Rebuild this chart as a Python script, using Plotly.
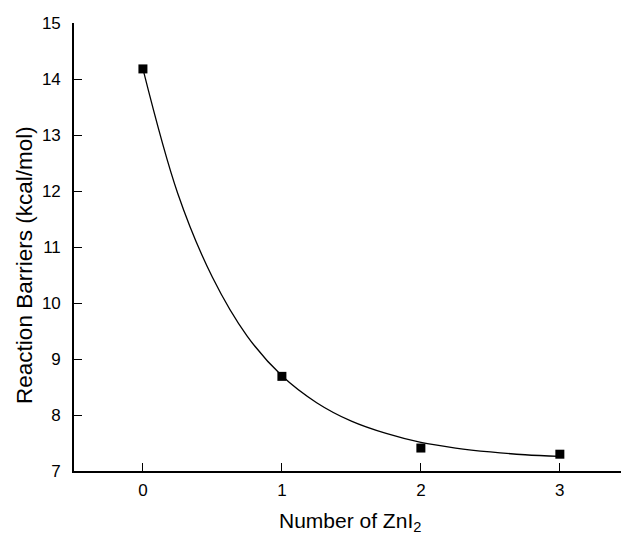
import plotly.graph_objects as go

# Data points
n_zni2 = [0, 1, 2, 3]
barriers = [14.18, 8.69, 7.41, 7.30]

# Fitted curve, values
curve_x = [0, 0.25, 0.5, 0.75, 1.0, 1.25, 1.5, 1.75, 2.0, 2.25, 2.5, 2.75, 3.0]
curve_y = [14.18, 11.96, 10.46, 9.41, 8.70, 8.22, 7.89, 7.67, 7.51, 7.41, 7.34, 7.29, 7.26]

x_ticks = [0, 1, 2, 3]
y_ticks = [7, 8, 9, 10, 11, 12, 13, 14, 15]

fig = go.Figure()
fig.add_trace(go.Scatter(x=curve_x, y=curve_y, mode="lines",
                         line=dict(color="black", width=1.3, shape="spline", smoothing=1.0),
                         hoverinfo="skip", showlegend=False))
fig.add_trace(go.Scatter(x=n_zni2, y=barriers, mode="markers",
                         marker=dict(symbol="square", size=9, color="black"),
                         showlegend=False))

font = "Liberation Sans, Arial, sans-serif"
fig.update_layout(
    width=621, height=535,
    margin=dict(l=74, r=0, t=23, b=64),
    plot_bgcolor="white", paper_bgcolor="white",
    font=dict(family=font, color="black"),
    annotations=[
        dict(text="Number of ZnI<sub>2</sub>", xref="paper", yref="paper",
             x=0.505, y=-0.1145, xanchor="center", yanchor="middle",
             showarrow=False, font=dict(size=21, family=font, color="black")),
        dict(text="Reaction Barriers (kcal/mol)", xref="paper", yref="paper",
             x=-0.0896, y=0.46, xanchor="center", yanchor="middle", textangle=-90,
             showarrow=False, font=dict(size=22.5, family=font, color="black")),
    ],
)
fig.update_xaxes(
    range=[-0.496, 3.44], tickvals=x_ticks, ticktext=[str(v) for v in x_ticks],
    showgrid=False, zeroline=False, showline=True, linecolor="black", linewidth=1.6,
    ticks="inside", ticklen=8, tickwidth=1.2, tickcolor="black",
    tickfont=dict(size=17, family=font), ticklabelstandoff=3,
)
fig.update_yaxes(
    range=[7, 15], tickvals=y_ticks, ticktext=[str(v) for v in y_ticks],
    showgrid=False, zeroline=False, showline=True, linecolor="black", linewidth=1.6,
    ticks="inside", ticklen=8, tickwidth=1.2, tickcolor="black",
    tickfont=dict(size=17, family=font), ticklabelstandoff=8,
)

fig.write_html("out.html", config={"displayModeBar": False},
               post_script="document.body.style.margin='0';document.body.style.padding='0';")
